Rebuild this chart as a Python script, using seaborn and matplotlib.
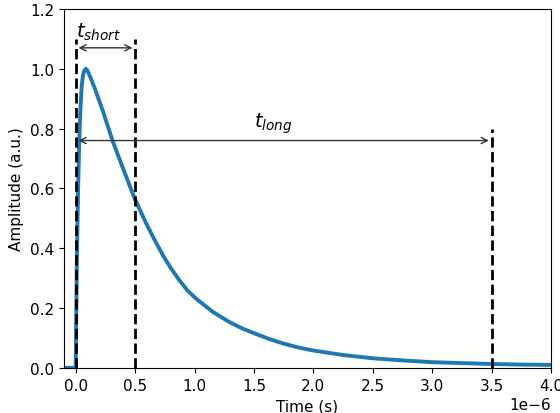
import numpy as np
import pandas as pd
import seaborn as sns
import matplotlib
matplotlib.use('Agg')
import matplotlib.pyplot as plt

# pulse shape (time in units of 1e-6 s)
time_us = [-0.10, -0.05, -0.001, 0.0, 0.005, 0.01, 0.02, 0.03, 0.04, 0.05, 0.06, 0.07,
           0.085, 0.10, 0.12, 0.16, 0.23, 0.313, 0.398, 0.496, 0.594, 0.665, 0.734, 0.80,
           0.874, 0.94, 1.014, 1.154, 1.294, 1.40, 1.50, 1.625, 1.75, 1.875, 2.0, 2.25,
           2.5, 2.75, 3.0, 3.25, 3.5, 3.75, 4.0]
amplitude = [0.0, 0.0, 0.0, 0.0, 0.20, 0.37, 0.60, 0.76, 0.87, 0.94, 0.975, 0.992,
             1.0, 0.993, 0.975, 0.935, 0.857, 0.756, 0.667, 0.566, 0.482, 0.427, 0.376, 0.334,
             0.292, 0.259, 0.231, 0.187, 0.153, 0.132, 0.116, 0.097, 0.081, 0.068, 0.058, 0.043,
             0.032, 0.025, 0.019, 0.016, 0.013, 0.011, 0.010]

# integration window markers (1e-6 s) and their heights
window_x = [0.0, 0.5, 3.5]
window_top = [1.1, 1.1, 0.8]
short_window = (0.0, 0.5, 1.07)
long_window = (0.0, 3.5, 0.76)

plt.rcParams['font.size'] = 11

df = pd.DataFrame({'t': np.array(time_us) * 1e-6, 'amp': amplitude})

fig, ax = plt.subplots(figsize=(5.6, 4.14), dpi=100)
fig.subplots_adjust(left=0.114, right=0.984, top=0.976, bottom=0.109)

sns.lineplot(data=df, x='t', y='amp', ax=ax, color='#1f77b4', linewidth=2.8,
             sort=False, estimator=None)

for x, top in zip(window_x, window_top):
    ax.plot([x * 1e-6, x * 1e-6], [0, top], color='black', linestyle='--', linewidth=2)

# arrows for the two windows
ax.annotate('', xy=(short_window[1] * 1e-6, short_window[2]),
            xytext=(short_window[0] * 1e-6, short_window[2]),
            arrowprops=dict(arrowstyle='<->', color='#333333', lw=1))
ax.annotate('', xy=(long_window[1] * 1e-6, long_window[2]),
            xytext=(long_window[0] * 1e-6, long_window[2]),
            arrowprops=dict(arrowstyle='<->', color='#333333', lw=1))
ax.text(0.0, 1.125, '$t_{short}$', fontsize=14, ha='left', va='center')
ax.text(1.5e-6, 0.82, '$t_{long}$', fontsize=14, ha='left', va='center')

ax.set_xlim(-0.1e-6, 4.0e-6)
ax.set_ylim(0, 1.2)
ax.set_xlabel('Time (s)')
ax.set_ylabel('Amplitude (a.u.)')

fig.savefig('out.png', dpi=100)
